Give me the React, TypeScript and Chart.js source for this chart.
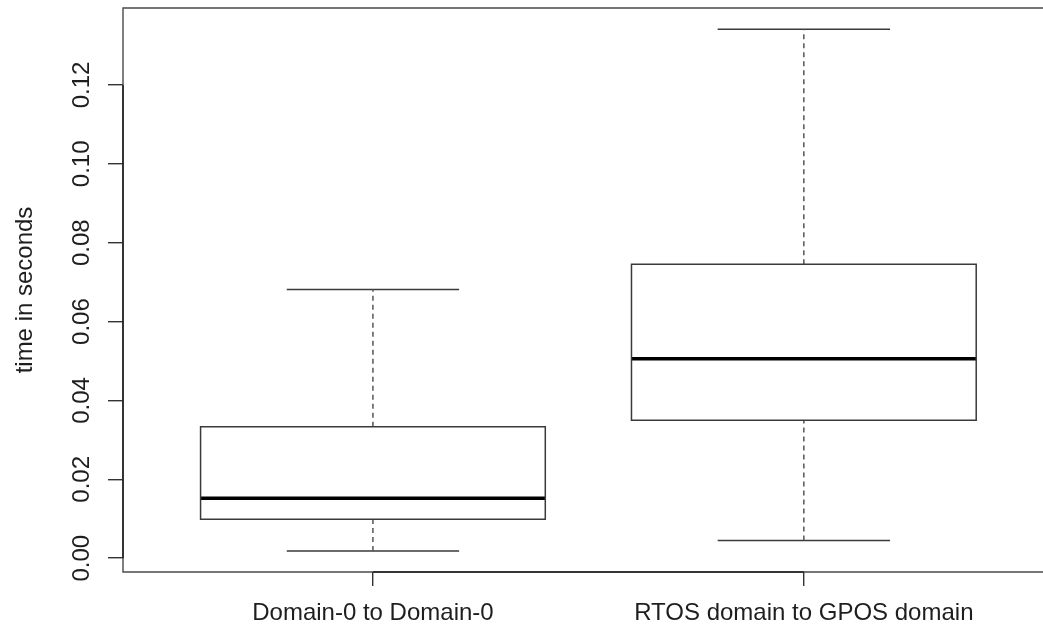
import React, { useEffect, useRef } from "react";
import { Chart, registerables } from "chart.js";

Chart.register(...registerables);

const categories = ["Domain-0 to Domain-0", "RTOS domain to GPOS domain"];
const whiskerLow = [0.0018, 0.0045];
const q1 = [0.0099, 0.035];
const median = [0.0152, 0.0506];
const q3 = [0.0333, 0.0745];
const whiskerHigh = [0.0681, 0.1341];
const yTickValues = [0, 0.02, 0.04, 0.06, 0.08, 0.1, 0.12];
const yTitle = "time in seconds";

const FONT = "'Liberation Sans', Arial, Helvetica, sans-serif";
const BOX_HALF = 0.4;
const CAP_HALF = 0.2;

function buildDatasets() {
  const ds: any[] = [];
  const base = {
    type: "line",
    pointRadius: 0,
    pointHoverRadius: 0,
    fill: false,
    tension: 0,
    borderCapStyle: "butt",
    borderJoinStyle: "miter",
  };
  categories.forEach((_, i) => {
    const c = i + 1;
    ds.push({
      ...base,
      label: "box" + c,
      data: [
        { x: c - BOX_HALF, y: q1[i] },
        { x: c + BOX_HALF, y: q1[i] },
        { x: c + BOX_HALF, y: q3[i] },
        { x: c - BOX_HALF, y: q3[i] },
        { x: c - BOX_HALF, y: q1[i] },
      ],
      borderColor: "#3a3a3a",
      borderWidth: 1.5,
      borderCapStyle: "square",
    });
    ds.push({
      ...base,
      label: "median" + c,
      data: [
        { x: c - BOX_HALF, y: median[i] },
        { x: c + BOX_HALF, y: median[i] },
      ],
      borderColor: "#000000",
      borderWidth: 3.5,
    });
    ds.push({
      ...base,
      label: "upperWhisker" + c,
      data: [
        { x: c, y: q3[i] },
        { x: c, y: whiskerHigh[i] },
      ],
      borderColor: "#555555",
      borderWidth: 1.5,
      borderDash: [5, 4],
    });
    ds.push({
      ...base,
      label: "lowerWhisker" + c,
      data: [
        { x: c, y: whiskerLow[i] },
        { x: c, y: q1[i] },
      ],
      borderColor: "#555555",
      borderWidth: 1.5,
      borderDash: [5, 4],
    });
    ds.push({
      ...base,
      label: "upperCap" + c,
      data: [
        { x: c - CAP_HALF, y: whiskerHigh[i] },
        { x: c + CAP_HALF, y: whiskerHigh[i] },
      ],
      borderColor: "#3a3a3a",
      borderWidth: 1.5,
    });
    ds.push({
      ...base,
      label: "lowerCap" + c,
      data: [
        { x: c - CAP_HALF, y: whiskerLow[i] },
        { x: c + CAP_HALF, y: whiskerLow[i] },
      ],
      borderColor: "#3a3a3a",
      borderWidth: 1.5,
    });
  });
  return ds;
}

const framePlugin = {
  id: "rframe",
  beforeDatasetsDraw(chart: any) {
    const { ctx, chartArea, scales } = chart;
    const { left, top, right, bottom } = chartArea;
    ctx.save();
    ctx.strokeStyle = "#4a4a4a";
    ctx.lineWidth = 1.4;
    ctx.beginPath();
    ctx.moveTo(right + 2, top);
    ctx.lineTo(left, top);
    ctx.lineTo(left, bottom);
    ctx.lineTo(right + 2, bottom);
    ctx.stroke();
    // axis lines (between first and last tick), as R draws them
    ctx.strokeStyle = "#222222";
    ctx.lineWidth = 1.6;
    ctx.beginPath();
    ctx.moveTo(scales.x.getPixelForValue(1), bottom);
    ctx.lineTo(scales.x.getPixelForValue(categories.length), bottom);
    ctx.moveTo(left, scales.y.getPixelForValue(yTickValues[0]));
    ctx.lineTo(left, scales.y.getPixelForValue(yTickValues[yTickValues.length - 1]));
    ctx.stroke();
    ctx.restore();
  },
};

export default function App() {
  const ref = useRef<HTMLCanvasElement | null>(null);
  useEffect(() => {
    if (!ref.current) return;
    const chart = new Chart(ref.current, {
      type: "line",
      data: { datasets: buildDatasets() as any },
      options: {
        animation: false,
        responsive: false,
        devicePixelRatio: 1,
        events: [],
        layout: { padding: { top: 8, left: 0, right: 0, bottom: 0 } },
        plugins: {
          legend: { display: false },
          tooltip: { enabled: false },
        },
        scales: {
          x: {
            type: "linear",
            min: 0.42,
            max: 2.555,
            border: { display: false },
            grid: {
              drawOnChartArea: false,
              drawTicks: true,
              tickLength: 14,
              color: "#333333",
              lineWidth: 1.4,
            },
            afterBuildTicks: (scale: any) => {
              scale.ticks = categories.map((_, i) => ({ value: i + 1 }));
            },
            afterFit: (scale: any) => {
              scale.height = 58;
              scale.paddingLeft = 0;
              scale.paddingRight = 0;
            },
            ticks: {
              autoSkip: false,
              minRotation: 0,
              maxRotation: 0,
              padding: 13,
              color: "#1e1e1e",
              font: { family: FONT, size: 24 },
              callback: (v: any) => categories[Number(v) - 1] ?? "",
            },
          },
          y: {
            type: "linear",
            min: -0.0035,
            max: 0.1395,
            border: { display: false },
            grid: {
              drawOnChartArea: false,
              drawTicks: true,
              tickLength: 15,
              color: "#333333",
              lineWidth: 1.4,
            },
            afterBuildTicks: (scale: any) => {
              scale.ticks = yTickValues.map((v) => ({ value: v }));
            },
            afterFit: (scale: any) => {
              scale.width = 123;
              scale.paddingTop = 0;
              scale.paddingBottom = 0;
            },
            title: {
              display: true,
              text: yTitle,
              color: "#1e1e1e",
              font: { family: FONT, size: 24 },
              padding: { top: 11, bottom: 0 },
            },
            ticks: {
              autoSkip: false,
              minRotation: 90,
              maxRotation: 90,
              crossAlign: "center",
              padding: 2,
              color: "#1e1e1e",
              font: { family: FONT, size: 24 },
              callback: (v: any) => Number(v).toFixed(2),
            },
          },
        },
      },
      plugins: [framePlugin],
    } as any);
    return () => chart.destroy();
  }, []);
  return (
    <div style={{ position: "absolute", left: 0, top: 0, width: 1043, height: 630, background: "#fff" }}>
      <canvas ref={ref} width={1043} height={630} style={{ display: "block" }} />
    </div>
  );
}
